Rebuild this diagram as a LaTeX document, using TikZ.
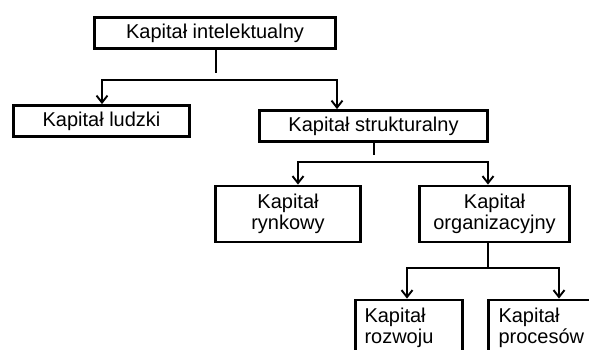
\documentclass[tikz,border=0pt]{standalone}
\usepackage{fontspec}
\setmainfont{Liberation Sans}
\usepackage{tikz}
\usetikzlibrary{arrows.meta}
\newcommand{\kfont}{\fontsize{20}{21.5}\selectfont}

\begin{document}
\begin{tikzpicture}[x=1pt,y=-1pt,>={Straight Barb[length=7pt,width=11pt,line width=1.9pt]},
box/.style={draw,line width=2.8pt,inner sep=0pt,align=center,font=\kfont},
lbox/.style={box,align=left,inner xsep=9pt,minimum height=56pt},
conn/.style={line width=1.5pt}]
\useasboundingbox (0,0) rectangle (589,350);
\node[box,minimum width=241pt,minimum height=31pt] (ki) at (215,33) {Kapitał intelektualny};
\node[box,minimum width=176pt,minimum height=31pt] (lud) at (101.5,121) {Kapitał ludzki};
\node[box,minimum width=228pt,minimum height=31pt] (str) at (373.5,126) {Kapitał strukturalny};
\node[box,minimum width=145pt,minimum height=56pt] (ryn) at (288,214) {Kapitał\\rynkowy};
\node[box,minimum width=150pt,minimum height=56pt] (org) at (494.5,214) {Kapitał\\organizacyjny};
\node[lbox,text width=89pt] (roz) at (409,328) {Kapitał\\rozwoju};
\node[lbox,inner xsep=10pt,text width=100pt] (pro) at (548.5,328) {Kapitał\\procesów};
% rozgalezienia
\coordinate (s1) at (216,73);
\coordinate (b1l) at (102,80);
\coordinate (b1r) at (337,80);
\coordinate (s2) at (374,155);
\coordinate (b2l) at (298,162);
\coordinate (b2r) at (488,162);
\coordinate (b3l) at (407,268);
\coordinate (b3m) at (488,268);
\coordinate (b3r) at (559,268);
\draw[conn] (ki.south -| s1) -- (s1);
\draw[conn,<->] (lud.north -| b1l) -- (b1l) -- (b1r) -- (str.north -| b1r);
\draw[conn] (str.south -| s2) -- (s2);
\draw[conn,<->] (ryn.north -| b2l) -- (b2l) -- (b2r) -- (org.north -| b2r);
\draw[conn] (org.south -| b3m) -- (b3m);
\draw[conn,<->] (roz.north -| b3l) -- (b3l) -- (b3r) -- (pro.north -| b3r);
\end{tikzpicture}
\end{document}
